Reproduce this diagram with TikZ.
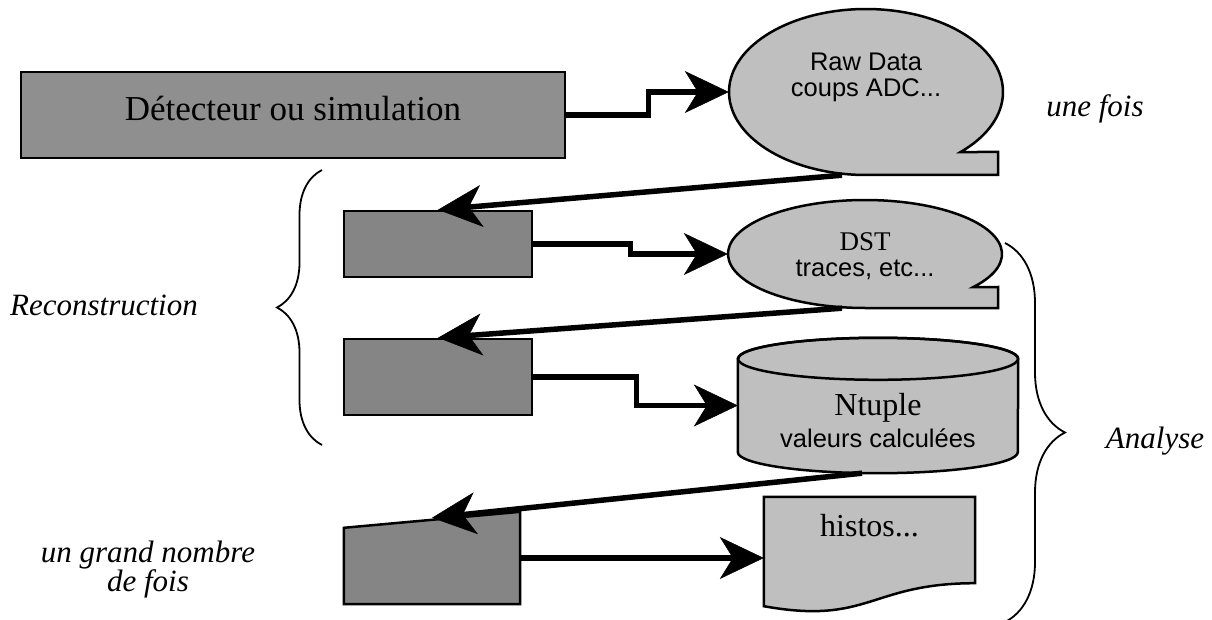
\documentclass[tikz,border=0pt]{standalone}
\usepackage{fontspec}
\setmainfont{Liberation Serif}
\newfontfamily\arialfont{Liberation Sans}
\newfontfamily\timesfont{Liberation Serif}
\usepackage{tikz}
\usepackage{xcolor}
\usetikzlibrary{shapes.geometric}
\usetikzlibrary{arrows.meta}
\usetikzlibrary{decorations.pathreplacing}
\usetikzlibrary{positioning}

\definecolor{detgray}{gray}{0.56}
\definecolor{boxgray}{gray}{0.52}
\definecolor{datagray}{gray}{0.75}

\begin{document}
\begin{tikzpicture}[x=1pt,y=1pt,
        flowline/.style={line width=5.5pt,-{Stealth[length=44pt,width=42pt,inset=13pt,line width=0.5pt]}},
        outline/.style={draw=black,line width=2.5pt},
        progbox/.style={outline,fill=boxgray,rectangle,minimum width=188pt,inner sep=0pt},
        anchorbox/.style={rectangle,inner sep=0pt},
        datatext/.style={align=center,font=\arialfont\fontsize{25.5}{#1}\selectfont},
        remark/.style={font=\itshape\fontsize{31}{29}\selectfont,align=center},
        bracket/.style={decorate,decoration={brace,amplitude=#1},line width=1.8pt}]
        %Frame
            \useasboundingbox (0,0) rectangle (1212,-620);
        %Source
            \node[outline,fill=detgray,rectangle,minimum width=544pt,minimum height=86pt,
                text depth=14pt,font=\fontsize{35}{36}\selectfont] (det) at (293,-115) {Détecteur ou simulation};
        %Programs
            \node[progbox,minimum height=66pt] (rec1) at (438,-244) {};
            \node[progbox,minimum height=76pt] (rec2) at (438,-377) {};
            \node[anchorbox,minimum width=176pt,minimum height=92pt] (rec3) at (432,-558) {};
            \draw[outline,fill=boxgray] (rec3.south west) -- ([yshift=-16]rec3.north west)
                -- (rec3.north east) -- (rec3.south east) -- cycle;
        %Raw data (tape)
            \node[ellipse,inner sep=0pt,minimum width=274pt,minimum height=166pt] (raw) at (866,-92) {};
            \draw[outline,fill=datagray] (raw.center) ++(-46.3:137pt and 83pt)
                arc[start angle=-46.3,end angle=270,x radius=137pt,y radius=83pt]
                -- ++(132,0) -- ++(0,23) -- cycle;
            \node[datatext=26] at ([yshift=15]raw.center) {Raw Data\\coups ADC...};
        %DST (tape)
            \node[ellipse,inner sep=0pt,minimum width=274pt,minimum height=108pt] (dst) at (865,-254) {};
            \draw[outline,fill=datagray] (dst.center) ++(-37.7:137pt and 54pt)
                arc[start angle=-37.7,end angle=270,x radius=137pt,y radius=54pt]
                -- ++(133,0) -- ++(0,21) -- cycle;
            \node[datatext=26] at ([yshift=-2]dst.center) {{\timesfont\fontsize{27}{26}\selectfont DST}\\traces, etc...};
        %Ntuple (cylinder)
            \node[anchorbox,minimum width=280pt,minimum height=135pt] (ntu) at (878,-405.5) {};
            \draw[outline,fill=datagray] ([yshift=-21]ntu.north west) -- ([yshift=21]ntu.south west)
                arc[start angle=180,end angle=360,x radius=140pt,y radius=21pt]
                -- ([yshift=-21]ntu.north east)
                arc[start angle=0,end angle=180,x radius=140pt,y radius=21pt] -- cycle;
            \draw[outline] ([yshift=-21]ntu.north) ellipse[x radius=140pt,y radius=21pt];
            \node[datatext=32] at ([yshift=-15]ntu.center) {{\timesfont\fontsize{32}{32}\selectfont Ntuple}\\valeurs calculées};
        %Histos (document)
            \node[anchorbox,minimum width=211pt,minimum height=114pt] (his) at (869.5,-554) {};
            \draw[outline,fill=datagray] (his.north west) -- (his.north east) -- ([yshift=28]his.south east)
                .. controls ([xshift=-105.5,yshift=28]his.south east) and ([xshift=105.5,yshift=-14]his.south west)
                .. ([yshift=5]his.south west) -- cycle;
            \node[font=\fontsize{32}{32}\selectfont] at ([yshift=28]his.center) {histos...};
        %Flow
            \draw[flowline] (det.east) -- ++(82,0) |- (raw.west);
            \draw[flowline] ([xshift=-24]raw.south) -- (rec1.north);
            \draw[flowline] (rec1.east) -- ++(97,0) |- (dst.west);
            \draw[flowline] ([xshift=-23]dst.south) -- (rec2.north);
            \draw[flowline] (rec2.east) -- ++(103,0) |- (ntu.west);
            \draw[flowline] ([xshift=-16]ntu.south) -- ([yshift=-6]rec3.north);
            \draw[flowline] (rec3.east) -- (rec3.east -| his.west);
        %Braces
            \draw[bracket=45pt] (322,-445) -- (322,-170);
            \draw[bracket=60pt] (1005,-243) -- (1005,-622);
        %Labels
            \node[remark] (unefois) at (1095,-109) {une fois};
            \node[remark] (reco) at (104,-305) {Reconstruction};
            \node[remark] (ana) at (1155,-441) {Analyse};
            \node[remark] (souvent) at (148,-570) {un grand nombre\\de fois};
    \end{tikzpicture}
\end{document}
